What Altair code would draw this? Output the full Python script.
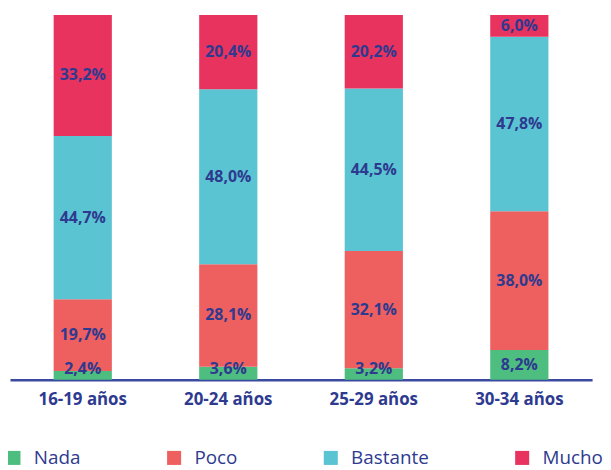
import altair as alt
import pandas as pd

ages = ["16-19 años", "20-24 años", "25-29 años", "30-34 años"]
levels = ["Nada", "Poco", "Bastante", "Mucho"]
nada = [2.4, 3.6, 3.2, 8.2]
poco = [19.7, 28.1, 32.1, 38.0]
bastante = [44.7, 48.0, 44.5, 47.8]
mucho = [33.2, 20.4, 20.2, 6.0]
colors = ["#4DBD80", "#EE5F60", "#5BC4D2", "#E8335F"]

rows = []
for i, a in enumerate(ages):
    for j, (lv, arr) in enumerate(zip(levels, [nada, poco, bastante, mucho])):
        rows.append({"age": a, "level": lv, "order": j, "value": arr[i]})
df = pd.DataFrame(rows)

navy = "#2E3A8F"
FONT = "Open Sans"

base = alt.Chart(df).transform_stack(
    stack="value", groupby=["age"], as_=["y0", "y1"],
    sort=[alt.SortField("order", order="ascending")], offset="normalize"
)

x = alt.X("age:N", sort=ages, title=None,
          scale=alt.Scale(paddingInner=0.6, paddingOuter=0.3),
          axis=alt.Axis(labelAngle=0, labelFont=FONT, labelFontWeight="bold",
                        labelFontSize=17, labelColor=navy, labelPadding=12,
                        ticks=False, domainColor="#3A4A9F", domainWidth=2.5))

bars = base.mark_bar().encode(
    x=x,
    y=alt.Y("y0:Q", scale=alt.Scale(domain=[0, 1], nice=False), axis=None),
    y2="y1:Q",
    color=alt.Color("level:N", sort=levels,
                    scale=alt.Scale(domain=levels, range=colors),
                    legend=alt.Legend(title=None, orient="none", legendX=-6, legendY=437,
                                      direction="horizontal", columns=4, padding=0,
                                      symbolType="square", symbolSize=200,
                                      symbolStrokeWidth=0, symbolOpacity=1,
                                      labelFont=FONT, labelFontSize=19,
                                      labelColor=navy, columnPadding=84,
                                      labelOffset=11)),
)

labels = base.transform_calculate(
    mid="max((datum.y0 + datum.y1) / 2, 0.03)",
    txt="replace(format(datum.value, '.1f'), '.', ',') + '%'"
).mark_text(font=FONT, fontWeight="bold", fontSize=16, color=navy).encode(
    x=alt.X("age:N", sort=ages),
    y=alt.Y("mid:Q"),
    text="txt:N",
)

chart = alt.layer(bars, labels).properties(
    width=587, height=368,
    padding={"left": -4, "top": 5, "right": 0, "bottom": 0},
).configure_view(stroke=None)

chart.save("out.html", embed_options={"renderer": "svg", "actions": False})
